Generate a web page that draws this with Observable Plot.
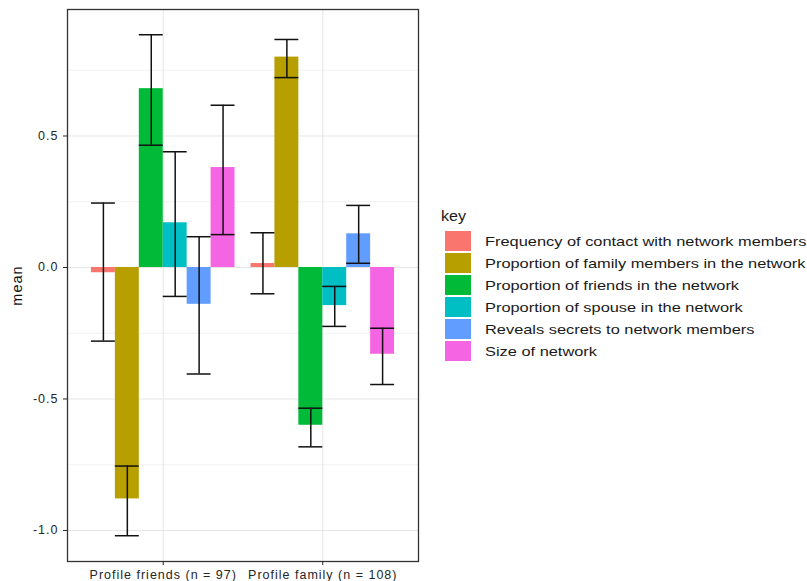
<!DOCTYPE html>
<html>
<head>
<meta charset="utf-8">
<script src="https://cdn.jsdelivr.net/npm/d3@7"></script>
<script src="https://cdn.jsdelivr.net/npm/@observablehq/plot@0.6"></script>
<style>
  html, body { margin: 0; padding: 0; background: #fff; }
  #wrap { position: relative; width: 807px; height: 581px; overflow: hidden; font-family: "Liberation Sans", Arial, sans-serif; }
  #chart svg text { letter-spacing: 1px; }
  #legend { position: absolute; left: 440px; top: 208px; color: #1a1a1a; }
  #legend .title { font-size: 14px; margin-left: 1px; height: 22px; transform: scaleX(1.15); transform-origin: left center; }
  #legend .row { display: flex; align-items: center; height: 22px; }
  #legend .sw { width: 26px; height: 20px; margin-left: 5px; margin-right: 14px; flex: none; }
  #legend .lab { font-size: 13px; white-space: nowrap; display: inline-block; transform: scaleX(1.26); transform-origin: left center; }
</style>
</head>
<body>
<div id="wrap"><div id="chart"></div><div id="legend"></div></div>
<script>
const groups = ["Profile friends (n = 97)", "Profile family (n = 108)"];
const keys = [
  "Frequency of contact with network members",
  "Proportion of family members in the network",
  "Proportion of friends in the network",
  "Proportion of spouse in the network",
  "Reveals secrets to network members",
  "Size of network"
];
const colors = ["#F8766D", "#B79F00", "#00BA38", "#00BFC4", "#619CFF", "#F564E3"];

const meanFriends  = [-0.02, -0.88, 0.68, 0.17, -0.14, 0.38];
const lowerFriends = [-0.28, -1.02, 0.465, -0.11, -0.405, 0.125];
const upperFriends = [0.245, -0.755, 0.885, 0.44, 0.117, 0.617];

const meanFamily  = [0.015, 0.80, -0.60, -0.145, 0.128, -0.33];
const lowerFamily = [-0.10, 0.722, -0.682, -0.224, 0.016, -0.445];
const upperFamily = [0.132, 0.867, -0.535, -0.072, 0.236, -0.231];

const yTicks = [-1, -0.5, 0, 0.5];
const yMinor = [-0.75, -0.25, 0.25, 0.75];
const yDomain = [-1.118, 0.981];
const xDomain = [0.4, 2.6];

const series = [
  {mean: meanFriends, lower: lowerFriends, upper: upperFriends},
  {mean: meanFamily, lower: lowerFamily, upper: upperFamily}
];
const rows = [];
groups.forEach((g, gi) => keys.forEach((k, ki) => rows.push({
  group: g, gi, key: k, ki,
  mean: series[gi].mean[ki], lower: series[gi].lower[ki], upper: series[gi].upper[ki]
})));

const dodge = 0.9 / keys.length;
const x1 = d => d.gi + 1 - 0.45 + d.ki * dodge;
const x2 = d => x1(d) + dodge;
const xc = d => x1(d) + dodge / 2;

const chart = Plot.plot({
  width: 807,
  height: 581,
  marginLeft: 67,
  marginRight: 389,
  marginTop: 9,
  marginBottom: 20,
  style: {fontFamily: "Liberation Sans, Arial, sans-serif", fontSize: "12.5px", color: "#262626", background: "#fff"},
  x: {domain: xDomain, ticks: [1, 2], tickFormat: i => groups[i - 1], tickSize: 4, label: null},
  y: {domain: yDomain, ticks: yTicks, tickFormat: d => d.toFixed(1), tickSize: 4, label: null},
  color: {domain: keys, range: colors},
  marks: [
    Plot.ruleY(yMinor, {stroke: "#f2f2f2", strokeWidth: 1}),
    Plot.ruleY(yTicks, {stroke: "#e6e6e6", strokeWidth: 1}),
    Plot.ruleX([1, 2], {stroke: "#e6e6e6", strokeWidth: 1}),
    Plot.rectY(rows, {x1, x2, y1: 0, y2: "mean", fill: "key"}),
    Plot.ruleX(rows, {x: xc, y1: "lower", y2: "upper", stroke: "#111", strokeWidth: 1.5}),
    Plot.ruleY(rows, {y: "lower", x1, x2, stroke: "#111", strokeWidth: 1.5}),
    Plot.ruleY(rows, {y: "upper", x1, x2, stroke: "#111", strokeWidth: 1.5}),
    Plot.frame({stroke: "#333", strokeWidth: 1.3}),
    Plot.text(["mean"], {x: () => xDomain[0], y: () => (yDomain[0] + yDomain[1]) / 2, text: d => d, rotate: -90, dx: -50, fontSize: 14.5, fill: "#111"})
  ]
});
document.getElementById("chart").appendChild(chart);

const legend = document.getElementById("legend");
const t = document.createElement("div");
t.className = "title";
t.textContent = "key";
legend.appendChild(t);
keys.forEach((k, i) => {
  const r = document.createElement("div");
  r.className = "row";
  const s = document.createElement("div");
  s.className = "sw";
  s.style.background = colors[i];
  const l = document.createElement("div");
  l.className = "lab";
  l.textContent = k;
  r.appendChild(s); r.appendChild(l);
  legend.appendChild(r);
});
</script>
</body>
</html>
